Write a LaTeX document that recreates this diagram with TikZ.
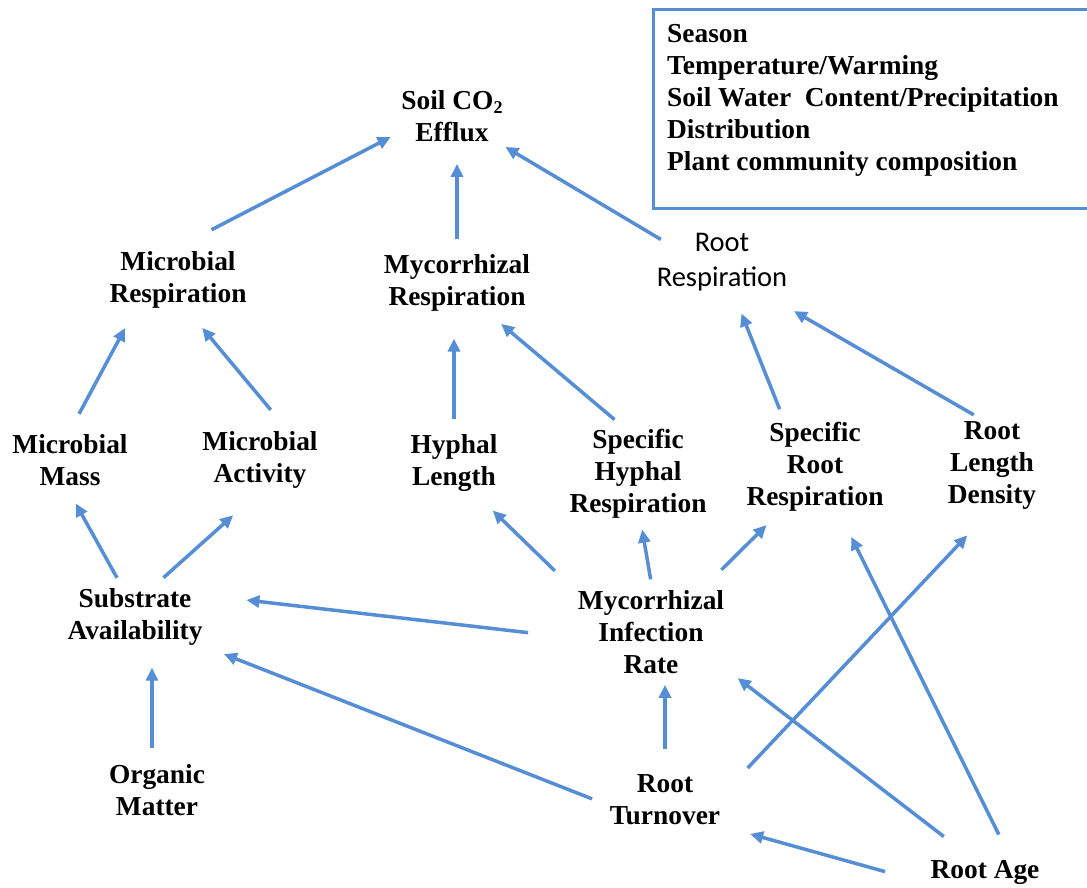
\documentclass[tikz,border=0pt]{standalone}
\usepackage{fontspec}
\setmainfont{Liberation Serif}
\newfontfamily\calibrifont{Carlito}
\usetikzlibrary{positioning,arrows.meta}
\definecolor{linkblue}{RGB}{85,142,213}

\begin{document}
\begin{tikzpicture}[x=1pt,y=-1pt,
    var/.style={align=center,inner sep=0pt,font=\fontsize{27.4}{32}\selectfont\bfseries},
    sansvar/.style={align=center,inner sep=0pt,font=\calibrifont\fontsize{28.5}{35}\selectfont},
    link/.style={draw=linkblue,line width=3.5pt,-{Triangle[length=13pt,width=12pt]}}]
        \useasboundingbox (0,0) rectangle (1087,888);
        % outer factors
        \draw [draw=linkblue,line width=3pt] (1090,10) -| (653,208) -- (1090,208);
        \node [var, align=left, anchor=north west] (factors) at (667,24)
          {Season\\Temperature/Warming\\Soil Water\ \ Content/Precipitation\\Distribution\\Plant community composition};
        % variables
        \node [var] (soil) at (452,116) {Soil CO\raisebox{-0.35ex}{\fontsize{18}{18}\selectfont 2}\\Efflux};
        \node [var, on grid, below left=164pt and 274pt of soil] (micresp) {Microbial\\Respiration};
        \node [var, on grid, below right=167pt and 5pt of soil] (mycresp) {Mycorrhizal\\Respiration};
        \node [sansvar, on grid, below right=146pt and 270pt of soil] (rootresp) {Root\\Respiration};
        \node [var, on grid, below left=180pt and 108pt of micresp] (micmass) {Microbial\\Mass};
        \node [var, on grid, below right=180pt and 82pt of micresp] (micact) {Microbial\\Activity};
        \node [var, on grid, below left=180pt and 3pt of mycresp] (hyphlen) {Hyphal\\Length};
        \node [var, on grid, below right=191pt and 181pt of mycresp] (spechyph) {Specific\\Hyphal\\Respiration};
        \node [var, on grid, below right=205pt and 93pt of rootresp] (specroot) {Specific\\Root\\Respiration};
        \node [var, on grid, below right=203pt and 270pt of rootresp] (rld) {Root\\Length\\Density};
        \node [var, on grid, below right=157pt and 65pt of micmass] (subst) {Substrate\\Availability};
        \node [var, on grid, below right=158pt and 13pt of spechyph] (mycinf) {Mycorrhizal\\Infection\\Rate};
        \node [var, on grid, below right=173pt and 22pt of subst] (organic) {Organic\\Matter};
        \node [var, on grid, below right=168pt and 14pt of mycinf] (turnover) {Root\\Turnover};
        \node [var, on grid, below right=72pt and 320pt of turnover] (rootage) {Root Age};
        % links
        \draw [link, shorten <=47pt, shorten >=12pt] (micresp.106) -- (soil.197);
        \draw [link, shorten <=15pt, shorten >=22pt] (mycresp.north) -- (mycresp.north |- soil.south);
        \draw [link, shorten <=-5pt, shorten >=10pt] (rootresp.159) -- (soil.330);
        \draw [link, shorten <=23pt, shorten >=22pt] (micmass.94) -- (micresp.214);
        \draw [link, shorten <=28pt, shorten >=25pt] (micact.45) -- (micresp.286);
        \draw [link, shorten <=15pt, shorten >=27pt] (hyphlen.north) -- (hyphlen.north |- mycresp.south);
        \draw [link, shorten <=15pt, shorten >=19pt] (spechyph.105) -- (mycresp.316);
        \draw [link, shorten <=14pt, shorten >=24pt] (specroot.124) -- (rootresp.290);
        \draw [link, shorten <=12pt, shorten >=40pt] (rld.100) -- (rootresp.322);
        \draw [link, shorten <=12pt, shorten >=20pt] (subst.113) -- (micmass.261);
        \draw [link, shorten <=16pt, shorten >=40pt] (subst.60) -- (micact.276);
        \draw [link, shorten <=32pt, shorten >=27pt] (mycinf.152) -- (hyphlen.304);
        \draw [link, shorten <=11pt, shorten >=11pt] (mycinf.88) -- (spechyph.273);
        \draw [link, shorten <=29pt, shorten >=19pt] (mycinf.40) -- (specroot.232);
        \draw [link, shorten <=50pt, shorten >=44pt] (mycinf.185) -- (subst.18);
        \draw [link, shorten <=19pt, shorten >=23pt] (turnover.186) -- (subst.337);
        \draw [link, shorten <=16pt, shorten >=22pt] (organic.101) -- (organic.101 |- subst.south);
        \draw [link, shorten <=26pt, shorten >=11pt] (turnover.north) -- (turnover.north |- mycinf.south);
        \draw [link, shorten <=40pt, shorten >=36pt] (turnover.3) -- (rld.south);
        \draw [link, shorten <=38pt, shorten >=17pt] (rootage.132) -- (mycinf.334);
        \draw [link, shorten <=28pt, shorten >=28pt] (rootage.25) -- (specroot.298);
        \draw [link, shorten <=47pt, shorten >=32pt] (rootage.south west) -- (turnover.335);
\end{tikzpicture}
\end{document}
